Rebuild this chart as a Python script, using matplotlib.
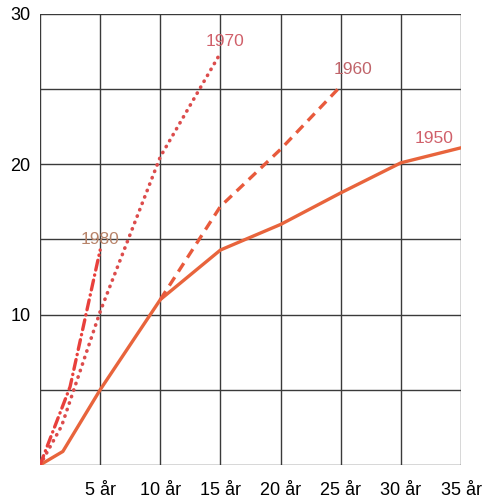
import matplotlib
matplotlib.use("Agg")
import matplotlib.pyplot as plt

plt.rcParams["font.family"] = ["Liberation Sans", "DejaVu Sans"]

# years since start (x) and value (y) per cohort
x_1950 = [0, 1.9, 5, 10, 15, 20, 25, 30, 35]
y_1950 = [0, 0.9, 5, 11, 14.3, 16.0, 18.1, 20.1, 21.1]

x_1960 = [10, 15, 20, 25]
y_1960 = [11, 17.2, 21.0, 25.2]

x_1970 = [0, 1.8, 5, 10, 15]
y_1970 = [0, 2.6, 10.2, 20.5, 27.4]

x_1980 = [0, 2.5, 5]
y_1980 = [0, 5.2, 14.3]

x_ticks = [5, 10, 15, 20, 25, 30, 35]
x_labels = ["5 år", "10 år", "15 år", "20 år", "25 år", "30 år", "35 år"]
y_ticks = [10, 20, 30]
y_labels = ["10", "20", "30"]

fig = plt.figure(figsize=(4.83, 4.98), dpi=100)
ax = fig.add_axes([0.0828, 0.0663, 0.8717, 0.9056])

for v in range(0, 36, 5):
    ax.axvline(v, color="#3a3a3a", lw=1.0, zorder=1)
for v in range(0, 31, 5):
    ax.axhline(v, color="#3a3a3a", lw=1.0, zorder=1)

ax.plot(x_1950, y_1950, color="#e8643c", lw=2.4, solid_capstyle="round", zorder=3)
ax.plot(x_1960, y_1960, color="#e85a3c", lw=2.4, linestyle=(0, (3, 2)), zorder=3)
ax.plot(x_1970, y_1970, color="#dc4c4c", lw=2.6, linestyle=(0, (0.1, 1.8)),
        dash_capstyle="round", zorder=3)
ax.plot(x_1980, y_1980, color="#e8403c", lw=2.4, linestyle=(0, (3, 1.5, 0.1, 1.5)),
        dash_capstyle="round", zorder=3)

ax.text(15.4, 28.2, "1970", color="#d0606a", fontsize=12.5, ha="center", va="center")
ax.text(26.0, 26.3, "1960", color="#c0646a", fontsize=12.5, ha="center", va="center")
ax.text(32.8, 21.7, "1950", color="#d0606a", fontsize=12.5, ha="center", va="center")
ax.text(5.0, 15.0, "1980", color="#b8846a", fontsize=12.5, ha="center", va="center")

ax.set_xlim(0, 35)
ax.set_ylim(0, 30)
ax.set_xticks(x_ticks)
ax.set_xticklabels(x_labels, fontsize=13)
ax.set_yticks(y_ticks)
ax.set_yticklabels(y_labels, fontsize=13)
ax.tick_params(length=0, pad=7)
ax.tick_params(axis="x", pad=12)
for s in ax.spines.values():
    s.set_visible(False)

fig.savefig("out.png", dpi=100)
